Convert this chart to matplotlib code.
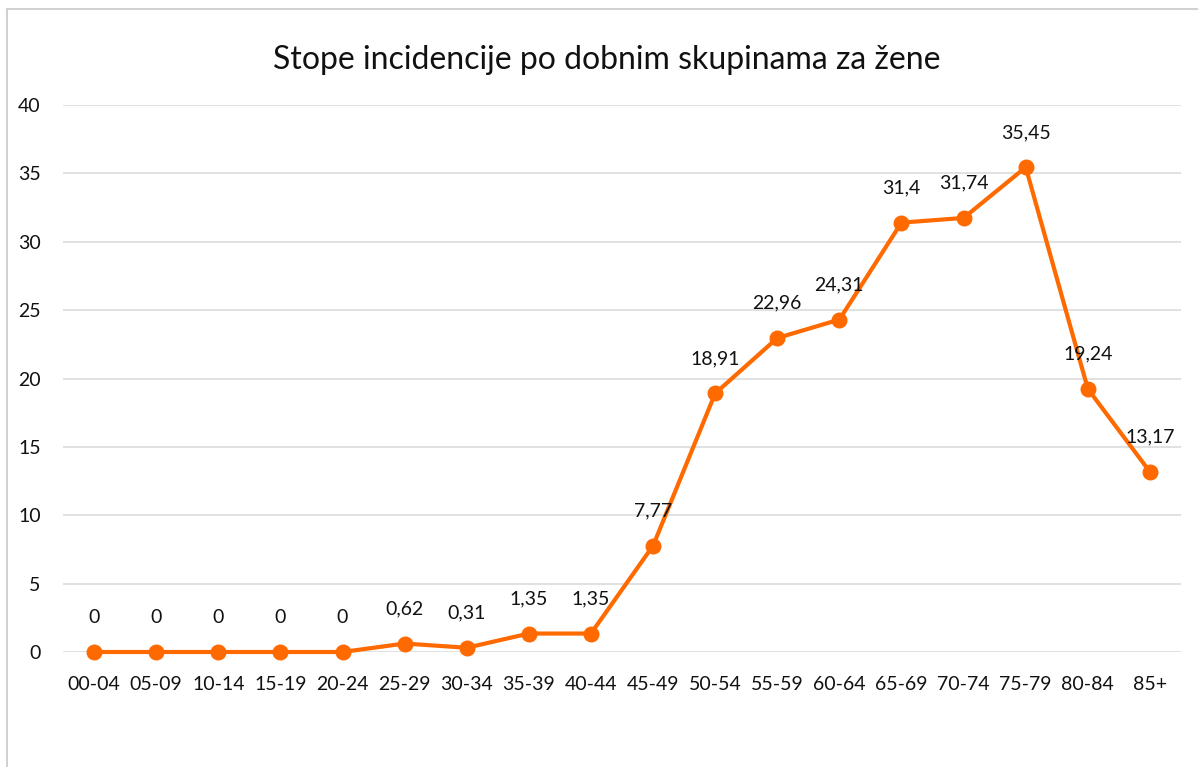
import matplotlib.pyplot as plt
from matplotlib.patches import Rectangle

plt.rcParams['font.family'] = ['Lato', 'DejaVu Sans']

# data
age_groups = ['00-04', '05-09', '10-14', '15-19', '20-24', '25-29', '30-34', '35-39', '40-44',
              '45-49', '50-54', '55-59', '60-64', '65-69', '70-74', '75-79', '80-84', '85+']
rates = [0, 0, 0, 0, 0, 0.62, 0.31, 1.35, 1.35,
         7.77, 18.91, 22.96, 24.31, 31.4, 31.74, 35.45, 19.24, 13.17]
y_ticks = [0, 5, 10, 15, 20, 25, 30, 35, 40]
title = 'Stope incidencije po dobnim skupinama za žene'

W, H = 1198, 767
fig = plt.figure(figsize=(W / 100, H / 100), dpi=100)
ax = fig.add_axes([63 / W, 1 - 652 / H, (1181 - 63) / W, (652 - 105) / H])

# chart border (cropped on right and bottom)
fig.patches.append(Rectangle((7 / W, -0.1), 1.2, 1 - 9 / H + 0.1, transform=fig.transFigure,
                             fill=False, edgecolor='#c8c8c8', linewidth=1.2))

x = list(range(len(age_groups)))
ax.plot(x, rates, color='#ff6a00', linewidth=3, marker='o', markersize=10.5,
        zorder=3, clip_on=False)

for xi, v in zip(x, rates):
    lbl = ('%g' % v).replace('.', ',')
    ax.annotate(lbl, (xi, v), xytext=(0, 25), textcoords='offset points',
                ha='center', va='center', fontsize=14, color='#111111')

ax.set_xlim(-0.5, len(age_groups) - 0.5)
ax.set_ylim(0, 40)
ax.set_yticks(y_ticks)
ax.set_xticks(x)
ax.set_xticklabels(age_groups)
ax.grid(axis='y', color='#d9d9d9', linewidth=1.1)
ax.set_axisbelow(True)
for s in ax.spines.values():
    s.set_visible(False)
ax.tick_params(axis='both', length=0, labelsize=14, colors='#111111')
ax.tick_params(axis='y', pad=16)
ax.tick_params(axis='x', pad=17)

fig.text(607 / W, 1 - 60 / H, title, ha='center', va='center', fontsize=23, color='#111111')

fig.savefig('out.png', dpi=100)
